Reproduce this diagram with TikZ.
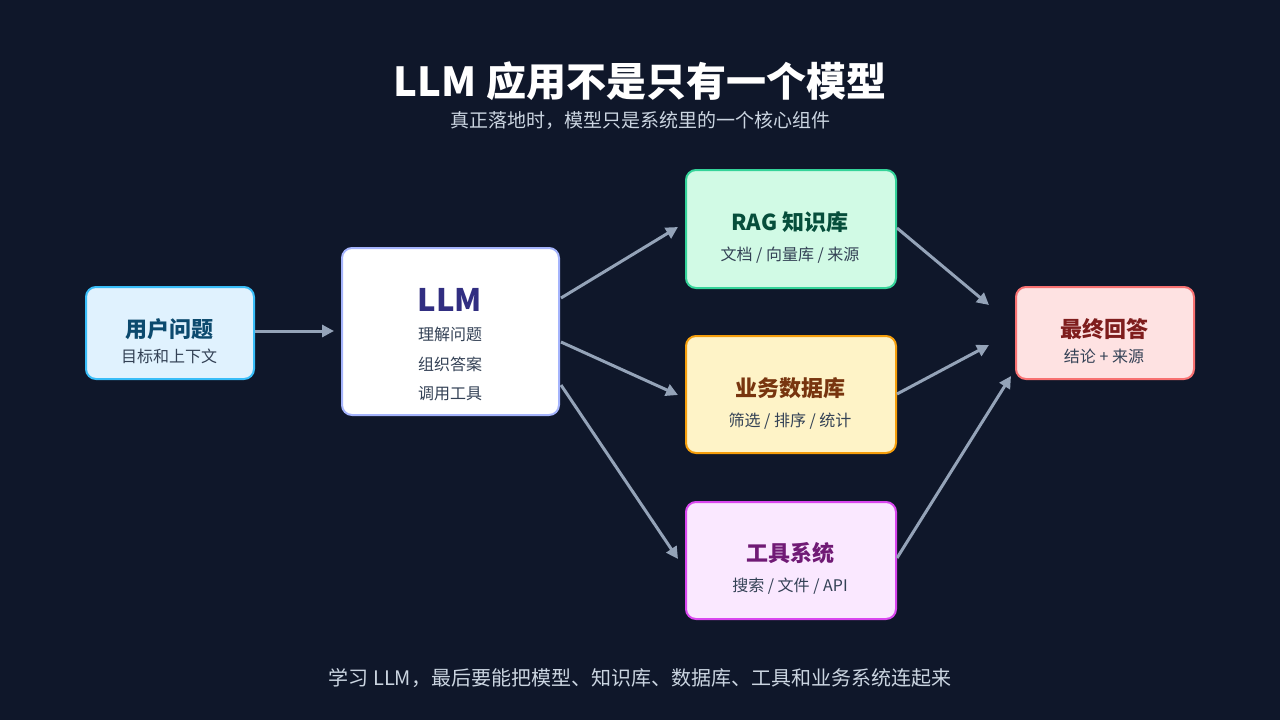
\documentclass[tikz,border=0pt]{standalone}
\usepackage{fontspec}
\setmainfont{Noto Sans CJK SC}
\usetikzlibrary{arrows.meta}
\definecolor{bg}{HTML}{0F172A}
\definecolor{arr}{HTML}{94A3B8}
\definecolor{sub}{HTML}{334155}
\definecolor{soft}{HTML}{CBD5E1}
\definecolor{uF}{HTML}{E0F2FE}\definecolor{uD}{HTML}{38BDF8}\definecolor{uT}{HTML}{0C4A6E}
\definecolor{lD}{HTML}{A5B4FC}\definecolor{lT}{HTML}{312E81}
\definecolor{rF}{HTML}{D1FAE5}\definecolor{rD}{HTML}{34D399}\definecolor{rT}{HTML}{064E3B}
\definecolor{dF}{HTML}{FEF3C7}\definecolor{dD}{HTML}{F59E0B}\definecolor{dT}{HTML}{78350F}
\definecolor{tF}{HTML}{FAE8FF}\definecolor{tD}{HTML}{D946EF}\definecolor{tT}{HTML}{701A75}
\definecolor{aF}{HTML}{FEE2E2}\definecolor{aD}{HTML}{F87171}\definecolor{aT}{HTML}{7F1D1D}
\begin{document}
\begin{tikzpicture}[x=1pt,y=-1pt,
  box/.style={draw,line width=2pt,rounded corners=10pt,anchor=north west,inner sep=0pt},
  con/.style={draw=arr,line width=3pt,-{Triangle[length=12pt,width=12pt]}},
  ttl/.style={font=\fontsize{22}{26}\selectfont\bfseries},
  st/.style={font=\fontsize{16}{20}\selectfont,text=sub}]
\fill[bg] (0,0) rectangle (1280,720);
\useasboundingbox (0,0) rectangle (1280,720);
\node (title) at (640,81) {\fontsize{40}{46}\selectfont\bfseries\color{white}LLM 应用不是只有一个模型};
\node (subt) at (640,120) {\fontsize{19}{22}\selectfont\color{soft}真正落地时，模型只是系统里的一个核心组件};
\node (foot) at (640,678) {\fontsize{20}{24}\selectfont\color{soft}学习 LLM，最后要能把模型、知识库、数据库、工具和业务系统连起来};
\node[box,draw=uD,fill=uF,minimum width=168pt,minimum height=92pt] (user) at (85,286) {};
\node[ttl,text=uT] at (169,329) {用户问题};
\node[st] (usub) at (169,356) {目标和上下文};
\node[box,draw=lD,fill=white,minimum width=217pt,minimum height=167pt] (llm) at (341,247) {};
\node[font=\fontsize{31}{34}\selectfont\bfseries,text=lT] (llmt) at (450,300) {LLM};
\node[st] at (450,334) {理解问题};
\node[st] at (450,364) {组织答案};
\node[st] at (450,394) {调用工具};
\node[box,draw=rD,fill=rF,minimum width=210pt,minimum height=118pt] (rag) at (685,169) {};
\node[ttl,text=rT] at (790,222) {RAG 知识库};
\node[st] at (790,255) {文档 / 向量库 / 来源};
\node[box,draw=dD,fill=dF,minimum width=210pt,minimum height=117pt] (db) at (685,335) {};
\node[ttl,text=dT] at (790,388) {业务数据库};
\node[st] at (790,421) {筛选 / 排序 / 统计};
\node[box,draw=tD,fill=tF,minimum width=210pt,minimum height=117pt] (tool) at (685,501) {};
\node[ttl,text=tT] at (790,553) {工具系统};
\node[st] at (790,586) {搜索 / 文件 / API};
\node[box,draw=aD,fill=aF,minimum width=178pt,minimum height=92pt] (ans) at (1015,286) {};
\node[ttl,text=aT] at (1104,329) {最终回答};
\node[st] at (1104,356) {结论 + 来源};
\coordinate (a1) at (255,331); \coordinate (b1) at (334,331);
\coordinate (a2) at (561,298); \coordinate (b2) at (678,227);
\coordinate (a3) at (561,342); \coordinate (b3) at (678,395);
\coordinate (a4) at (561,385); \coordinate (b4) at (678,559);
\coordinate (a5) at (897,228); \coordinate (b5) at (989,305);
\coordinate (a6) at (897,394); \coordinate (b6) at (989,345);
\coordinate (a7) at (897,558); \coordinate (b7) at (1011,376);
\foreach \i in {1,...,7} \draw[con] (a\i) -- (b\i);
\end{tikzpicture}
\end{document}
